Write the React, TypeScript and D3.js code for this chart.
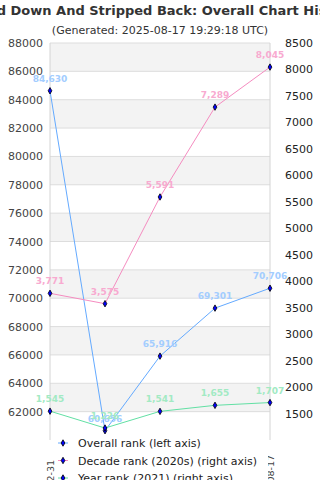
import React from "react";
import * as d3 from "d3";

// chart values
const dates = ["2021-12-31", "2022-12-31", "2023-12-31", "2024-12-31", "2025-08-17"];
const overallRank = [84630, 60656, 65916, 69301, 70706];
const decadeRank = [3771, 3575, 5591, 7289, 8045];
const yearRank = [1545, 1226, 1541, 1655, 1707];
const leftTicks = [62000, 64000, 66000, 68000, 70000, 72000, 74000, 76000, 78000, 80000, 82000, 84000, 86000, 88000];
const rightTicks = [1500, 2000, 2500, 3000, 3500, 4000, 4500, 5000, 5500, 6000, 6500, 7000, 7500, 8000, 8500];

const title = "Pared Down And Stripped Back: Overall Chart History";
const subtitle = "(Generated: 2025-08-17 19:29:18 UTC)";

const FONT = "DejaVu Sans";

export default function App() {
  const width = 320;
  const height = 480;
  const margin = { top: 43, right: 50, bottom: 40, left: 50 };
  const plotBottom = height - margin.bottom;
  const plotRight = width - margin.right;

  const x = d3.scalePoint<number>().domain(d3.range(dates.length)).range([margin.left, plotRight]);
  const yLeft = d3.scaleLinear().domain([60000, 88000]).range([plotBottom, margin.top]);
  const yRight = d3.scaleLinear().domain([1000, 8500]).range([plotBottom, margin.top]);

  const bands = d3.range(60000, 88000, 2000);

  const series = [
    { name: "Overall rank (left axis)", values: overallRank, y: yLeft, line: "#64aaff", label: "#a3cdff" },
    { name: "Decade rank (2020s) (right axis)", values: decadeRank, y: yRight, line: "#f58cc0", label: "#f8aad0" },
    { name: "Year rank (2021) (right axis)", values: yearRank, y: yRight, line: "#62e0a4", label: "#a2eac3" },
  ];

  const diamond = d3.symbol().type(d3.symbolDiamond).size(12)() as string;
  const fmt = d3.format(",");

  return (
    <svg width={width} height={height} style={{ position: "absolute", left: 0, top: 0, background: "#fff" }} fontFamily={FONT}>
      <text x={160} y={15} textAnchor="middle" fontSize={13} fontWeight="bold" fill="#333">{title}</text>
      <text x={160} y={34} textAnchor="middle" fontSize={11} fill="#333">{subtitle}</text>

      {/* alternating bands */}
      {bands.map((v, i) => (
        <rect key={v} x={margin.left} width={plotRight - margin.left}
          y={yLeft(v + 2000)} height={yLeft(v) - yLeft(v + 2000)}
          fill={i % 2 === 1 ? "#f3f3f3" : "#fff"} />
      ))}
      {leftTicks.map((v) => (
        <line key={v} x1={margin.left} x2={plotRight} y1={yLeft(v)} y2={yLeft(v)} stroke="#dddddd" />
      ))}
      <line x1={margin.left} x2={margin.left} y1={margin.top} y2={plotBottom} stroke="#d4d4d4" />
      <line x1={plotRight} x2={plotRight} y1={margin.top} y2={plotBottom} stroke="#d4d4d4" />

      {/* axes labels */}
      {leftTicks.map((v) => (
        <text key={v} x={43} y={yLeft(v) + 4} textAnchor="end" fontSize={11} fill="#444">{v}</text>
      ))}
      {rightTicks.map((v) => (
        <text key={v} x={285} y={yRight(v) + 4} textAnchor="start" fontSize={11} fill="#222">{v}</text>
      ))}

      {/* x labels (mostly under legend) */}
      {dates.map((d, i) => (
        <text key={d} transform={`translate(${x(i)! + 4},${i === 0 ? 460 : 455}) rotate(-90)`} textAnchor="end" fontSize={9.5} fill="#444">{d}</text>
      ))}

      {/* lines */}
      {series.map((s) => {
        const line = d3.line<number>().x((_, i) => x(i)!).y((v) => s.y(v));
        return <path key={s.name} d={line(s.values) || ""} fill="none" stroke={s.line} strokeWidth={1} />;
      })}
      {series.map((s) =>
        s.values.map((v, i) => (
          <path key={s.name + i} d={diamond} transform={`translate(${x(i)},${s.y(v)})`} fill="#0000ff" stroke="#000" strokeWidth={0.8} />
        ))
      )}
      {series.map((s) =>
        s.values.map((v, i) => (
          <text key={s.name + "l" + i} x={x(i)} y={s.y(v) - 9} textAnchor="middle" fontSize={9} fontWeight="bold" fill={s.label}>{fmt(v)}</text>
        ))
      )}

      {/* legend */}
      <rect x={56} y={434} width={212} height={46} fill="#fff" />
      {series.map((s, i) => {
        const cy = 443 + i * 17.5;
        return (
          <g key={s.name}>
            <line x1={58} x2={68} y1={cy} y2={cy} stroke={s.line} />
            <path d={diamond} transform={`translate(63,${cy})`} fill="#0000ff" stroke="#000" strokeWidth={0.8} />
            <text x={78} y={cy + 4} fontSize={11} fill="#222">{s.name}</text>
          </g>
        );
      })}
    </svg>
  );
}
